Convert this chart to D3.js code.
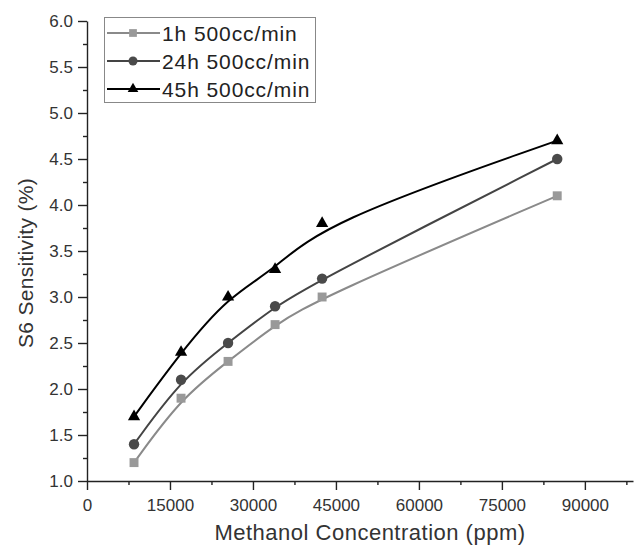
<!DOCTYPE html>
<html lang="en">
  <head>
    <meta charset="utf-8">
    <title>S6 Sensitivity vs Methanol Concentration</title>
    <script src="https://d3js.org/d3.v7.min.js"></script>
    <style type="text/css">
        body { margin: 0; background: #fff; }
        .axis text { font: 17px "Liberation Sans", Arial, sans-serif; fill: #333; }
        .axis path, .axis line { stroke: #222; stroke-width: 1.4px; }
        .axis-title { font: 22px "Liberation Sans", Arial, sans-serif; fill: #333; text-anchor: middle; letter-spacing: 0.5px; }
        .legend text { font: 21px "Liberation Sans", Arial, sans-serif; fill: #222; letter-spacing: 0.9px; }
    </style>
  </head>
  <body>
    <div id="chart"></div>
    <script>
        // data
        var concentration = [8500, 17000, 25500, 34000, 42500, 85000];
        var series1h  = [1.2, 1.9, 2.3, 2.7, 3.0, 4.1];
        var series24h = [1.4, 2.1, 2.5, 2.9, 3.2, 4.5];
        var series45h = [1.7, 2.4, 3.0, 3.3, 3.8, 4.7];
        var seriesNames = ["1h 500cc/min", "24h 500cc/min", "45h 500cc/min"];
        var xTicks = [0, 15000, 30000, 45000, 60000, 75000, 90000];
        var yTicks = [1.0, 1.5, 2.0, 2.5, 3.0, 3.5, 4.0, 4.5, 5.0, 5.5, 6.0];

        var width = 635, height = 552;
        var margin = {top: 21, right: 2, bottom: 71, left: 87};

        var svg = d3.select("#chart").append("svg")
            .attr("width", width)
            .attr("height", height);

        var x = d3.scaleLinear().domain([0, 98700]).range([margin.left, width - margin.right]);
        var y = d3.scaleLinear().domain([1, 6]).range([height - margin.bottom, margin.top]);

        var series = [
          {name: seriesNames[0], values: series1h,  line: "#8a8a8a", fill: "#999", shape: d3.symbolSquare,   size: 80},
          {name: seriesNames[1], values: series24h, line: "#444",    fill: "#4a4a4a", shape: d3.symbolCircle, size: 85},
          {name: seriesNames[2], values: series45h, line: "#000",    fill: "#000", shape: d3.symbolTriangle, size: 65}
        ];

        // minor ticks
        var xMinor = d3.range(7500, 98700, 15000);
        var yMinor = d3.range(1.25, 6, 0.5);

        svg.append("g").attr("class", "axis")
            .attr("transform", "translate(0," + y(1) + ")")
            .call(d3.axisBottom(x).tickValues(xMinor).tickSize(4).tickFormat(""))
            .select(".domain").remove();
        svg.append("g").attr("class", "axis")
            .attr("transform", "translate(0," + y(1) + ")")
            .call(d3.axisBottom(x).tickValues(xTicks).tickSize(9).tickSizeOuter(0).tickPadding(9).tickFormat(d3.format("d")));

        svg.append("g").attr("class", "axis")
            .attr("transform", "translate(" + x(0) + ",0)")
            .call(d3.axisLeft(y).tickValues(yMinor).tickSize(4).tickFormat(""))
            .select(".domain").remove();
        svg.append("g").attr("class", "axis")
            .attr("transform", "translate(" + x(0) + ",0)")
            .call(d3.axisLeft(y).tickValues(yTicks).tickSize(9).tickSizeOuter(0).tickPadding(5).tickFormat(d3.format(".1f")));

        svg.append("text").attr("class", "axis-title")
            .attr("x", 370).attr("y", 540)
            .text("Methanol Concentration (ppm)");
        svg.append("text").attr("class", "axis-title")
            .attr("transform", "translate(33,263) rotate(-90)")
            .style("font-size", "21px").style("letter-spacing", "0.3px")
            .text("S6 Sensitivity (%)");

        var line = d3.line()
            .x(function(d, i) { return x(concentration[i]); })
            .y(function(d) { return y(d); })
            .curve(d3.curveBasis);

        series.forEach(function(s) {
          svg.append("path")
            .attr("d", line(s.values))
            .attr("fill", "none")
            .attr("stroke", s.line)
            .attr("stroke-width", 2);
          svg.selectAll(null)
            .data(s.values)
            .enter().append("path")
              .attr("d", d3.symbol().type(s.shape).size(s.size))
              .attr("transform", function(d, i) { return "translate(" + x(concentration[i]) + "," + y(d) + ")"; })
              .attr("fill", s.fill);
        });

        // legend
        var legend = svg.append("g").attr("class", "legend");
        legend.append("rect")
            .attr("x", 104.5).attr("y", 17.5).attr("width", 211).attr("height", 85)
            .attr("fill", "#fff").attr("stroke", "#888").attr("stroke-width", 1);
        series.forEach(function(s, i) {
          var ly = 33 + i * 28;
          legend.append("line")
            .attr("x1", 107).attr("x2", 160).attr("y1", ly).attr("y2", ly)
            .attr("stroke", s.line).attr("stroke-width", 2.2);
          legend.append("path")
            .attr("d", d3.symbol().type(s.shape).size(s.size * 0.75))
            .attr("transform", "translate(133," + ly + ")")
            .attr("fill", s.fill);
          legend.append("text")
            .attr("x", 162).attr("y", ly + 7.5)
            .text(s.name);
        });
    </script>
  </body>
</html>
